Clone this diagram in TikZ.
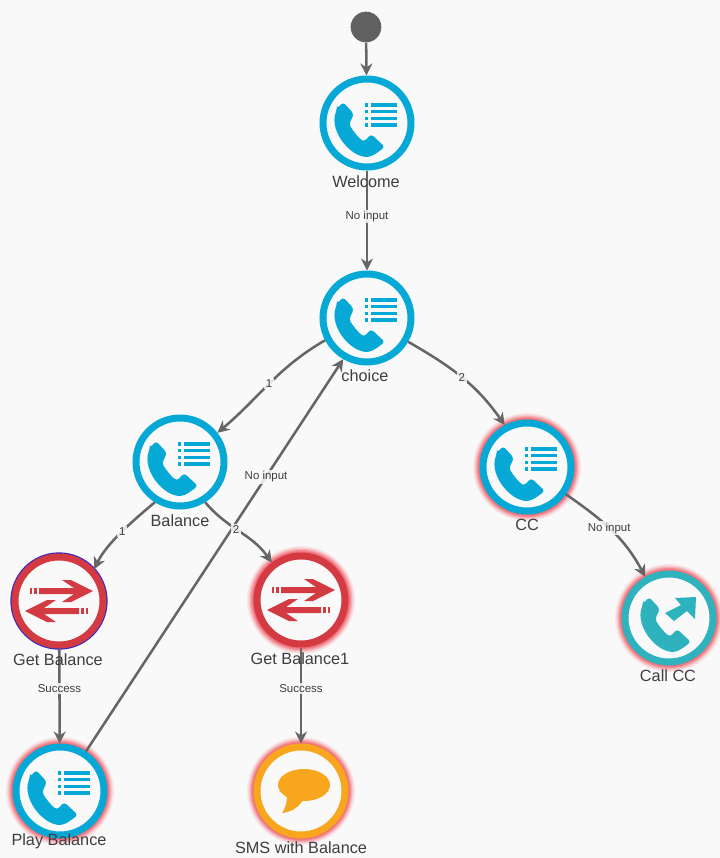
\documentclass[tikz,border=0pt]{standalone}
\usepackage{fontspec}
\setmainfont{Liberation Sans}
\usetikzlibrary{arrows.meta}

\definecolor{pagegrey}{RGB}{249,249,249}
\definecolor{flowgrey}{RGB}{102,102,102}
\definecolor{textgrey}{RGB}{62,62,66}
\definecolor{menublue}{RGB}{6,168,214}
\definecolor{callteal}{RGB}{46,178,190}
\definecolor{lookred}{RGB}{212,58,66}
\definecolor{smsorange}{RGB}{248,166,30}
\definecolor{glowred}{RGB}{240,90,100}
\definecolor{selblue}{RGB}{60,40,190}

\newcommand{\phonemark}[1]{%
  \fill[#1,rounded corners=2.5pt] (-30,-14) -- (-24,-21) -- (-13,-9) -- (-18,1)
    .. controls (-14,8) and (-9,14) .. (-3,19) -- (4,11) -- (18,24) -- (7,32)
    .. controls (-12,39) and (-39,10) .. cycle;}
\newcommand{\listmark}[1]{%
  \foreach \ly in {-18,-11.3,-4.7,2} {
    \fill[#1] (-2,\ly-1.7) rectangle (1.3,\ly+1.7);
    \fill[#1] (3.7,\ly-1.7) rectangle (29.7,\ly+1.7);
  }}
\newcommand{\lookarrow}{%
  \fill[lookred] (-20,-13) -- (15,-13) -- (3,-21) -- (12,-21) -- (34,-10) -- (12,1) -- (3,1) -- (15,-7) -- (-20,-7) -- cycle;
  \fill[lookred] (-29,-13) rectangle (-27,-7);
  \fill[lookred] (-25,-13) rectangle (-22,-7);}

\tikzset{
  startdot/.style={circle,fill=flowgrey!95!black,minimum size=23pt,inner sep=0pt},
  ivrnode/.style={circle,draw=#1,fill=pagegrey,line width=5.25pt,minimum size=66pt,inner sep=0pt},
  glowring/.style={
    preaction={draw=glowred,draw opacity=.1,line width=15pt},
    preaction={draw=glowred,draw opacity=.16,line width=13pt},
    preaction={draw=glowred,draw opacity=.28,line width=11pt},
    preaction={draw=glowred,draw opacity=.42,line width=9pt},
    preaction={draw=glowred,draw opacity=.55,line width=7pt}},
  selring/.style={preaction={draw=selblue,line width=7pt}},
  flow/.style={draw=flowgrey,line width=1.9pt,-{Stealth[length=9pt,width=9pt]}},
  flowlabel/.style={font=\fontsize{8.6}{10}\selectfont,text=textgrey,fill=pagegrey,fill opacity=.85,text opacity=1,inner sep=1.2pt},
  namelabel/.style={font=\fontsize{12.2}{14}\selectfont,text=textgrey,inner sep=0pt},
}

\begin{document}
\begin{tikzpicture}[x=0.75pt,y=0.75pt,yscale=-1,xscale=1]
\fill[pagegrey] (0,0) rectangle (720,858);
\useasboundingbox (0,0) rectangle (720,858);

%Shape: Circle
\node [startdot] (start) at (366,27) {};
\node [ivrnode=menublue] (welcome) at (367,123) {};
\node [ivrnode=menublue] (choice) at (367,318) {};
\node [ivrnode=menublue] (balance) at (180,462) {};
\node [ivrnode=menublue,glowring] (cc) at (527,467) {};
\node [ivrnode=lookred,selring] (getbal) at (59,601) {};
\node [ivrnode=lookred,glowring] (getbalone) at (301,600) {};
\node [ivrnode=menublue,glowring] (playbal) at (60,791) {};
\node [ivrnode=smsorange,glowring] (sms) at (301,791) {};
\node [ivrnode=callteal,glowring] (callcc) at (669,618) {};

%Icons
\foreach \n in {welcome,choice,balance,cc,playbal} {
  \begin{scope}[shift={(\n)}]
    \phonemark{menublue}
    \listmark{menublue}
  \end{scope}
}
\foreach \n in {getbal,getbalone} {
  \begin{scope}[shift={(\n)}]
    \lookarrow
    \begin{scope}[rotate=180]
      \lookarrow
    \end{scope}
  \end{scope}
}
\begin{scope}[shift={(callcc)}]
  \begin{scope}[xshift=3pt]
    \phonemark{callteal}
  \end{scope}
  \fill [callteal] (27,-21) -- (6,-20) -- (12,-13) -- (-4,-5) -- (5,3) -- (18,-7) -- (26,1) -- cycle;
\end{scope}
\begin{scope}[shift={(sms)}]
  \fill [smsorange] (3,-6) ellipse [x radius=26,y radius=16];
  \fill [smsorange] (-14,5) .. controls (-14,12) and (-16,18) .. (-19,22) .. controls (-10,21) and (-3,17) .. (2,9) -- cycle;
\end{scope}

%Straight Lines
\draw [flow] (start) -- (welcome);
\draw [flow] (welcome) -- (choice) node [flowlabel,pos=.46] (lwelcome) {No input};
\draw [flow] (getbal) -- (playbal) node [flowlabel,pos=.42] (lgetbal) {Success};
\draw [flow] (getbalone) -- (sms) node [flowlabel,pos=.43] (lgetbalone) {Success};
\draw [flow] (playbal) -- (choice.240) node [flowlabel,pos=.7] (lplaybal) {No input};

%Curves
\draw [flow] (choice.208) to [out=150,in=-40] node [flowlabel,pos=.5] (lone) {1} (balance.38);
\draw [flow] (choice.330) to [out=30,in=-125] node [flowlabel,pos=.5] (ltwo) {2} (cc.118);
\draw [flow] (balance.238) to [out=140,in=-65,looseness=.8] node [flowlabel,pos=.48] (lbalone) {1} (getbal.42);
\draw [flow] (balance.302) to [out=50,in=-125,looseness=1] node [flowlabel,pos=.45] (lbaltwo) {2} (getbalone.128);
\draw [flow] (cc.-35) to [out=35,in=-118] node [flowlabel,pos=.47] (lcc) {No input} (callcc.120);

% Text Node
\node [namelabel] (twelcome) at (366,182) {Welcome};
\node [namelabel] (tchoice) at (365,376) {choice};
\node [namelabel] (tbalance) at (180,521) {Balance};
\node [namelabel] (tcc) at (527,525) {CC};
\node [namelabel] (tgetbal) at (58,660) {Get Balance};
\node [namelabel] (tgetbalone) at (300,659) {Get Balance1};
\node [namelabel] (tplaybal) at (59,841) {Play Balance};
\node [namelabel] (tsms) at (301,848) {SMS with Balance};
\node [namelabel] (tcallcc) at (668,676) {Call CC};

\end{tikzpicture}
\end{document}
